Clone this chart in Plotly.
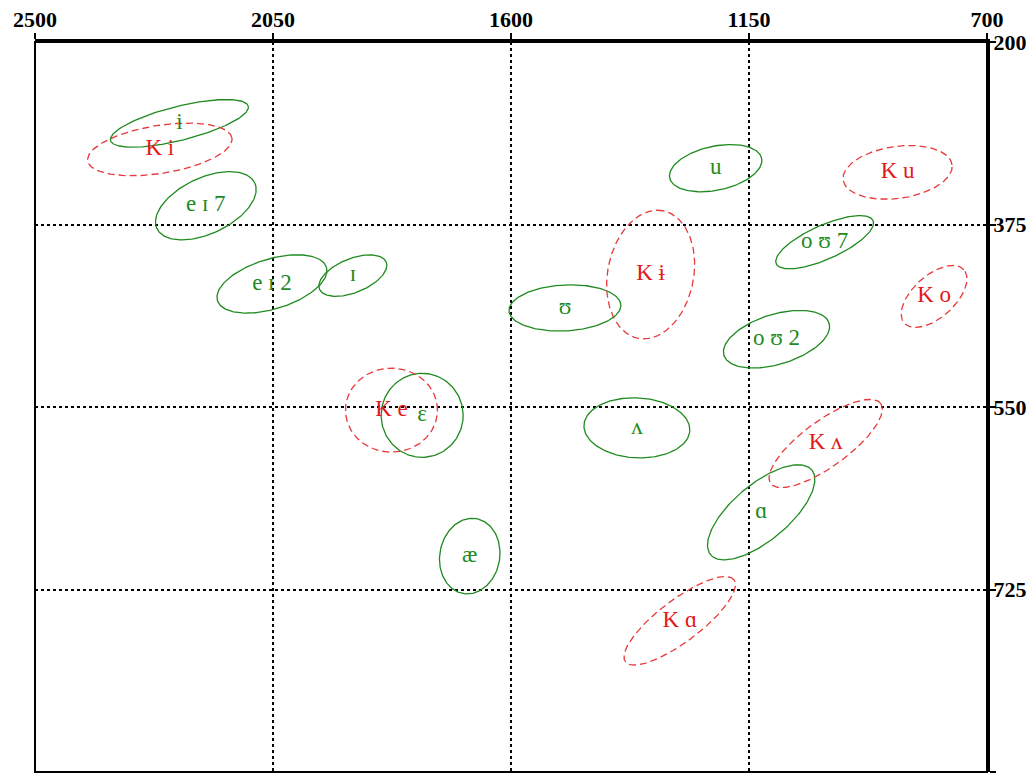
import numpy as np
import plotly.graph_objects as go

# Vowel formant data: F2 (Hz) and F1 (Hz) means per vowel
labels = ["i", "e ɪ 7", "e ɪ 2", "ɪ", "ɛ", "æ", "ʊ", "u", "o ʊ 7", "o ʊ 2", "ʌ", "ɑ",
          "K i", "K e", "K ɨ", "K u", "K o", "K ʌ", "K ɑ"]
f2 = [2227, 2177, 2052, 1899, 1768, 1678, 1498, 1213, 1007, 1098, 1362, 1127,
      2264, 1826, 1336, 869, 800, 1005, 1281]
f1 = [278, 357, 432, 424, 558, 693, 455, 321, 392, 485, 570, 651,
      303, 553, 423, 325, 444, 585, 755]
group = ["std"] * 12 + ["K"] * 7

# Ellipse shapes (semi-axes in screen px, tilt in degrees, counter-clockwise)
semi_major = [71, 54, 57, 36, 41, 38, 56, 47, 53, 55, 53, 66,
              73, 46, 65, 55, 40, 68, 68]
semi_minor = [17, 28, 25, 17, 42, 30, 23, 22, 17, 25, 30, 28,
              24, 42, 43, 26, 21, 23, 21]
tilt_deg = [14, 25, 17, 22, 0, 80, 3, 12, 24, 17, -3, 40,
            9, 0, 79, 8, 42, 36, 37]

x_ticks = [2500, 2050, 1600, 1150, 700]
y_ticks = [200, 375, 550, 725, 900]

W, H = 1032, 784
M = dict(l=35, r=45, t=42, b=12)
plot_w = W - M["l"] - M["r"]
plot_h = H - M["t"] - M["b"]
sx = plot_w / (x_ticks[0] - x_ticks[-1])   # px per Hz (F2)
sy = plot_h / (y_ticks[-1] - y_ticks[0])   # px per Hz (F1)

GREEN = "#1f8a1f"
RED = "#e3191c"
RED_LINE = "#e8383a"
FONT = "Liberation Serif"
LABEL_FONT = "Liberation Serif, DejaVu Serif, serif"

fig = go.Figure()

t = np.linspace(0, 2 * np.pi, 181)
for lab, cx, cy, a, b, th, g in zip(labels, f2, f1, semi_major, semi_minor, tilt_deg, group):
    r = np.deg2rad(th)
    u = a * np.cos(t) * np.cos(r) - b * np.sin(t) * np.sin(r)
    v = a * np.cos(t) * np.sin(r) + b * np.sin(t) * np.cos(r)
    xs = cx - u / sx
    ys = cy - v / sy
    if g == "K":
        line = dict(color=RED_LINE, width=1.3, dash="7px,4px")
    else:
        line = dict(color=GREEN, width=1.3)
    fig.add_trace(go.Scatter(x=xs, y=ys, mode="lines", line=line,
                             hoverinfo="skip", showlegend=False))

fig.add_trace(go.Scatter(
    x=f2, y=f1, mode="text", text=labels,
    textfont=dict(family=LABEL_FONT, size=23,
                  color=[RED if g == "K" else GREEN for g in group]),
    textposition="middle center", hoverinfo="skip", showlegend=False))

axis_common = dict(
    showline=True, linecolor="black", linewidth=3, mirror=False,
    ticks="outside", ticklen=6, tickwidth=2, tickcolor="black",
    showgrid=True, gridcolor="black", gridwidth=2, griddash="dot",
    zeroline=False, automargin=False,
    tickfont=dict(family=FONT, size=22, color="black", weight="bold"),
)

fig.update_xaxes(range=[x_ticks[0], x_ticks[-1]], side="top",
                 tickmode="array", tickvals=x_ticks,
                 ticktext=[str(v) for v in x_ticks], ticklabelstandoff=-3,
                 **axis_common)
fig.update_yaxes(range=[y_ticks[-1], y_ticks[0]], side="right",
                 tickmode="array", tickvals=y_ticks,
                 ticktext=[str(v) for v in y_ticks], ticklabelstandoff=-7,
                 **axis_common)

# frame on the left and bottom edges
fig.add_shape(type="rect", xref="paper", yref="paper", x0=0, y0=0, x1=1, y1=1,
              line=dict(color="black", width=2), layer="above")

fig.update_layout(width=W, height=H, margin=M,
                  paper_bgcolor="white", plot_bgcolor="white",
                  showlegend=False)

fig.write_html("out.html")
